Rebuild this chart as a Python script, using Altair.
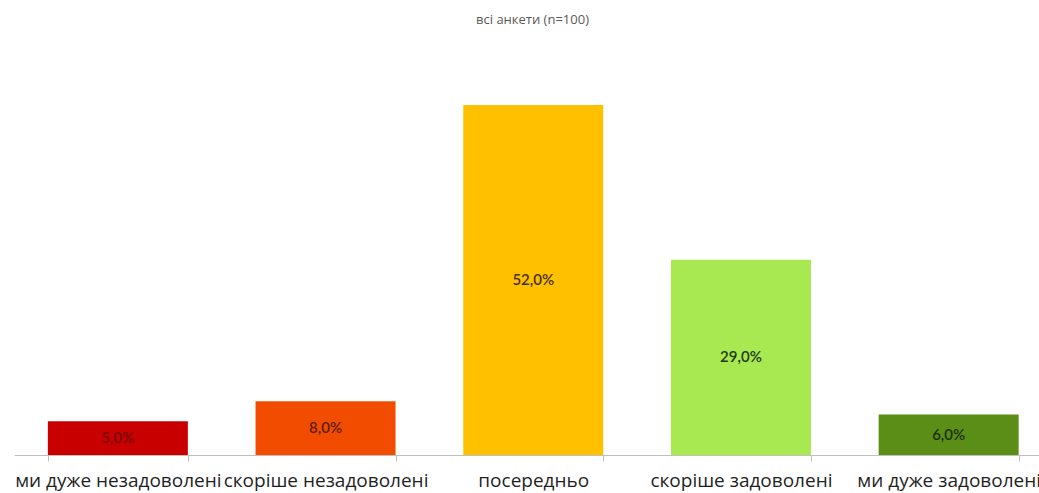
import altair as alt
import pandas as pd

categories = [
    "ми дуже незадоволені",
    "скоріше незадоволені",
    "посередньо",
    "скоріше задоволені",
    "ми дуже задоволені",
]
values = [5.0, 8.0, 52.0, 29.0, 6.0]
bar_colors = ["#c80000", "#f24c00", "#ffc000", "#a8e850", "#5b8e17"]
label_colors = ["#7a0000", "#5e1e00", "#4a3000", "#1f3a0c", "#1b2f06"]

df = pd.DataFrame({
    "cat": categories,
    "value": values,
    "bar_color": bar_colors,
    "label_color": label_colors,
})

x_enc = alt.X(
    "cat:N",
    sort=categories,
    title=None,
    scale=alt.Scale(range=[0, 1038.5], paddingInner=0.326, paddingOuter=0.163),
    axis=alt.Axis(
        labelAngle=0,
        labelFontSize=19,
        labelFont="Open Sans",
        labelColor="#1f1f1f",
        labelPadding=10,
        labelLimit=0,
        labelOverlap=False,
        domainColor="#bfbfbf",
        tickColor="#bfbfbf",
        tickSize=6,
        tickBand="extent",
    ),
)

y_scale = alt.Scale(domain=[0, 60])

bars = alt.Chart(df).mark_bar().encode(
    x=x_enc,
    y=alt.Y("value:Q", scale=y_scale, axis=None),
    color=alt.Color("bar_color:N", scale=None),
)

labels = alt.Chart(df).transform_calculate(
    mid="datum.value / 2",
    txt="replace(format(datum.value, '.1f'), '.', ',') + '%'",
).mark_text(font="Lato", fontSize=15, fontWeight=600, baseline="middle").encode(
    x=alt.X("cat:N", sort=categories),
    y=alt.Y("mid:Q", scale=y_scale),
    text="txt:N",
    color=alt.Color("label_color:N", scale=None),
)

chart = alt.layer(bars, labels).properties(
    width=1025,
    height=403.85,
    background="white",
    title=alt.TitleParams(
        "всі анкети (n=100)",
        fontSize=13,
        font="Open Sans",
        fontWeight="normal",
        color="#595959",
        offset=24,
        dx=6,
    ),
    autosize=alt.AutoSizeParams(type="none"),
    padding={"left": 14, "top": 51.15, "right": 0, "bottom": 38},
).configure_view(strokeWidth=0, stroke="transparent")

chart.save("out.html", embed_options={"renderer": "svg", "actions": False})
